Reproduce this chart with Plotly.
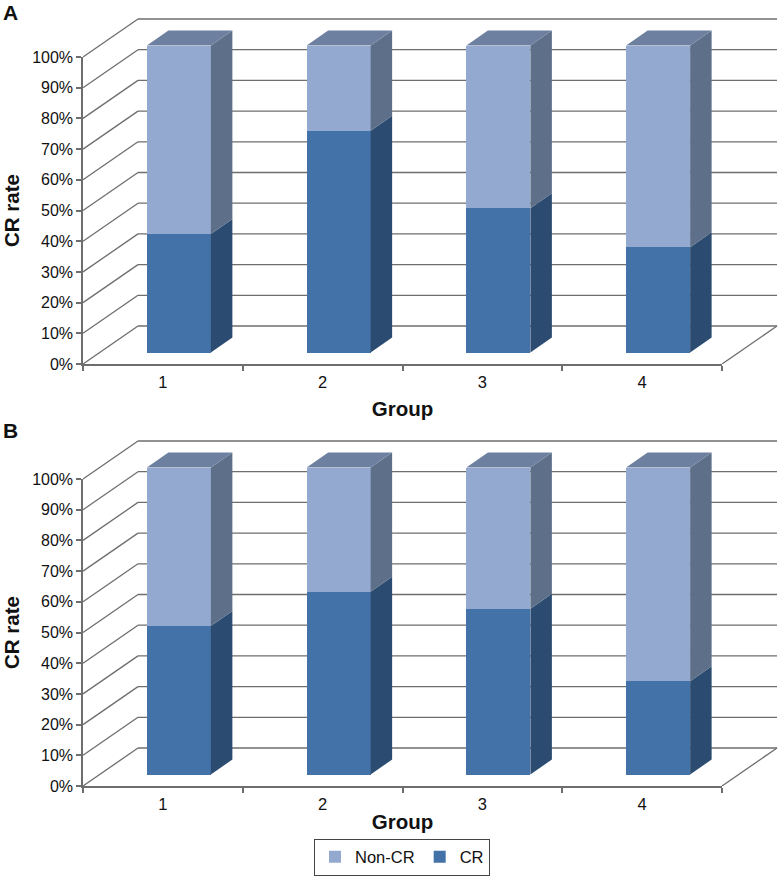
import plotly.graph_objects as go

GROUPS = ["1", "2", "3", "4"]
CR_A = [38.6, 72.2, 47.0, 34.3]
NON_CR_A = [61.4, 27.8, 53.0, 65.7]
CR_B = [48.4, 59.5, 54.0, 30.4]
NON_CR_B = [51.6, 40.5, 46.0, 69.6]
PERCENT_TICKS = [0, 10, 20, 30, 40, 50, 60, 70, 80, 90, 100]

W, H = 779, 876
FONT = "Liberation Sans"
GREY = "#6e6e6e"
C_NON = "#94a9cf"; C_NON_SIDE = "#5e7089"; C_NON_TOP = "#6e80a0"
C_CR = "#4272a7"; C_CR_SIDE = "#2b4b70"; C_CR_TOP = "#2f5380"

PX_X = 159.75      # px per category
PX_Y = 3.07        # px per percent
LEFT, RIGHT, FAR_RIGHT = 83, 722, 779
WALL_X, WALL_Y = 55 / PX_X, 38 / PX_Y    # depth of the floor
BAR_X, BAR_Y = 16 / PX_X, 11.5 / PX_Y    # where bars stand on the floor
DEP_X, DEP_Y = 21.5 / PX_X, 15 / PX_Y    # bar depth
BAR_W = 64 / PX_X

fig = go.Figure()
shapes = []


def face(pts, color, xa, ya):
    fig.add_trace(go.Scatter(
        x=[p[0] for p in pts], y=[p[1] for p in pts], mode="lines", fill="toself",
        fillcolor=color, line=dict(width=0, color=color), hoverinfo="skip",
        showlegend=False, xaxis=xa, yaxis=ya))


def panel(idx, bottom_px, cr, non, legend, title_gap):
    a, b = 2 * idx + 1, 2 * idx + 2
    xa, ya = f"x{a}" if a > 1 else "x", f"y{a}" if a > 1 else "y"
    xb, yb = f"x{b}", f"y{b}"
    top_px = bottom_px - 100 * PX_Y
    ov_top = bottom_px - 354
    # invisible carrier so that the tick axes get drawn
    fig.add_trace(go.Scatter(x=[0.5, 1.5, 2.5, 3.5], y=cr, mode="markers", marker=dict(opacity=0),
                             hoverinfo="skip", showlegend=False, xaxis=xa, yaxis=ya))
    # axes with ticks
    fig.layout[f"xaxis{a if a > 1 else ''}"] = dict(
        domain=[LEFT / W, RIGHT / W], range=[0, 4], anchor=ya, showgrid=False, zeroline=False,
        showline=True, linecolor=GREY, linewidth=1.5,
        tickmode="array", tickvals=[0.5, 1.5, 2.5, 3.5], ticktext=GROUPS,
        ticks="outside", ticklen=2, tickcolor="rgba(0,0,0,0)",
        minor=dict(tickmode="array", tickvals=[0, 1, 2, 3, 4], ticks="outside", ticklen=5,
                   tickcolor=GREY, tickwidth=1.5, showgrid=False),
        tickfont=dict(family=FONT, size=16.5, color="#111"),
        title=dict(text="<b>Group</b>", font=dict(family=FONT, size=20.5, color="#111"), standoff=title_gap))
    fig.layout[f"yaxis{a if a > 1 else ''}"] = dict(
        domain=[1 - bottom_px / H, 1 - top_px / H], range=[0, 100], anchor=xa, showgrid=False,
        zeroline=False, showline=True, linecolor=GREY, linewidth=1.5,
        tickmode="array", tickvals=PERCENT_TICKS, ticktext=[f"{v}%" for v in PERCENT_TICKS],
        ticks="outside", ticklen=5, tickcolor=GREY, tickwidth=1.5,
        tickfont=dict(family=FONT, size=16, color="#111"),
        title=dict(text="<b>CR rate</b>", font=dict(family=FONT, size=20.5, color="#111"), standoff=10))
    # overlay sharing the same scale, wide enough for the 3-D depth
    fig.layout[f"xaxis{b}"] = dict(domain=[LEFT / W, FAR_RIGHT / W], range=[0, (FAR_RIGHT - LEFT) / PX_X],
                                   anchor=yb, visible=False)
    fig.layout[f"yaxis{b}"] = dict(domain=[1 - bottom_px / H, 1 - ov_top / H],
                                   range=[0, (bottom_px - ov_top) / PX_Y], anchor=xb, visible=False)

    def seg(x0, y0, x1, y1):
        shapes.append(dict(type="line", xref=xb, yref=yb, x0=x0, y0=y0, x1=x1, y1=y1, layer="below",
                           line=dict(color=GREY, width=1.3)))

    for t in PERCENT_TICKS:
        seg(0, t, WALL_X, t + WALL_Y)
        seg(WALL_X, t + WALL_Y, 4 + WALL_X, t + WALL_Y)
    seg(4, 0, 4 + WALL_X, WALL_Y)

    centers = [i + 0.5 + BAR_X for i in range(4)]
    fig.add_trace(go.Bar(x=centers, y=non, base=[BAR_Y + c for c in cr], width=BAR_W, name="Non-CR",
                         marker=dict(color=C_NON, line=dict(width=0)), showlegend=legend,
                         xaxis=xb, yaxis=yb))
    fig.add_trace(go.Bar(x=centers, y=cr, base=BAR_Y, width=BAR_W, name="CR",
                         marker=dict(color=C_CR, line=dict(width=0)), showlegend=legend,
                         xaxis=xb, yaxis=yb))
    for xc, c, n in zip(centers, cr, non):
        x0, x1 = xc - BAR_W / 2, xc + BAR_W / 2
        lo, mid, hi = BAR_Y, BAR_Y + c, BAR_Y + c + n
        side = lambda u, v: [(x1, u), (x1 + DEP_X, u + DEP_Y), (x1 + DEP_X, v + DEP_Y), (x1, v), (x1, u)]
        face(side(lo, mid), C_CR_SIDE, xb, yb)
        face(side(mid, hi), C_NON_SIDE, xb, yb)
        face([(x0, hi), (x0 + DEP_X, hi + DEP_Y), (x1 + DEP_X, hi + DEP_Y), (x1, hi), (x0, hi)],
             C_NON_TOP, xb, yb)


panel(0, 364, CR_A, NON_CR_A, False, 12)
panel(1, 786, CR_B, NON_CR_B, True, 3)

annotations = [
    dict(text="<b>A</b>", x=1 / W, y=1 - 12.5 / H, xref="paper", yref="paper", xanchor="left", yanchor="middle",
         showarrow=False, font=dict(family=FONT, size=21, color="#111")),
    dict(text="<b>B</b>", x=1 / W, y=1 - 431 / H, xref="paper", yref="paper", xanchor="left", yanchor="middle",
         showarrow=False, font=dict(family=FONT, size=21, color="#111")),
]

fig.update_layout(
    width=W, height=H, margin=dict(l=0, r=0, t=0, b=0, autoexpand=False), autosize=False,
    paper_bgcolor="white", plot_bgcolor="rgba(0,0,0,0)", barmode="overlay", bargap=0,
    shapes=shapes, annotations=annotations,
    legend=dict(orientation="h", x=314 / W, y=1 - 838.5 / H, xanchor="left", yanchor="top",
                bordercolor="#444", borderwidth=1, bgcolor="white",
                font=dict(family=FONT, size=16.5, color="#111")),
)
fig.write_html("out.html", post_script="document.body.style.margin='0';",
               config={"displayModeBar": False})
